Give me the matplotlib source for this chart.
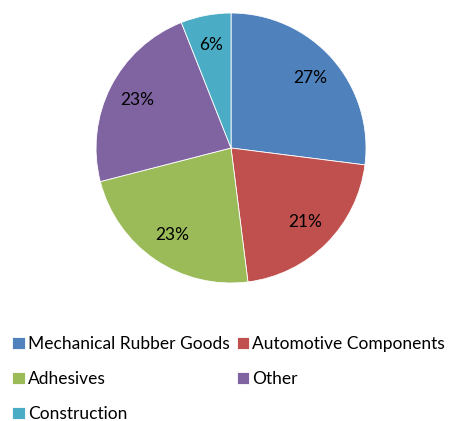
import matplotlib.pyplot as plt

categories = ['Mechanical Rubber Goods', 'Automotive Components', 'Adhesives', 'Other', 'Construction']
shares = [27, 21, 23, 23, 6]
colors = ['#4F81BD', '#C0504D', '#9BBB59', '#8064A2', '#4BACC6']

plt.rcParams['font.family'] = ['Lato', 'DejaVu Sans']

fig = plt.figure(figsize=(4.51, 4.21), dpi=100)
ax = fig.add_axes([0.2129, 0.3278, 0.5987, 0.6413])
wedges, texts, autotexts = ax.pie(shares, colors=colors, startangle=90, counterclock=False,
                                  autopct='%d%%', pctdistance=0.78,
                                  wedgeprops=dict(edgecolor='white', linewidth=0.6))
for t in autotexts:
    t.set_fontsize(12.5)
    t.set_color('black')
ax.set_xlim(-1, 1)
ax.set_ylim(-1, 1)
ax.set_aspect('equal')

# legend fills row by row in the reference
order = [0, 2, 4, 1, 3]
fig.legend([wedges[i] for i in order], [categories[i] for i in order],
           loc='upper left', bbox_to_anchor=(0.012, 0.218), ncol=2,
           frameon=False, fontsize=12.5, handlelength=0.7, handleheight=0.7,
           handletextpad=0.2, columnspacing=0.4, labelspacing=1.1, borderaxespad=0)

fig.savefig('out.png', dpi=100)
